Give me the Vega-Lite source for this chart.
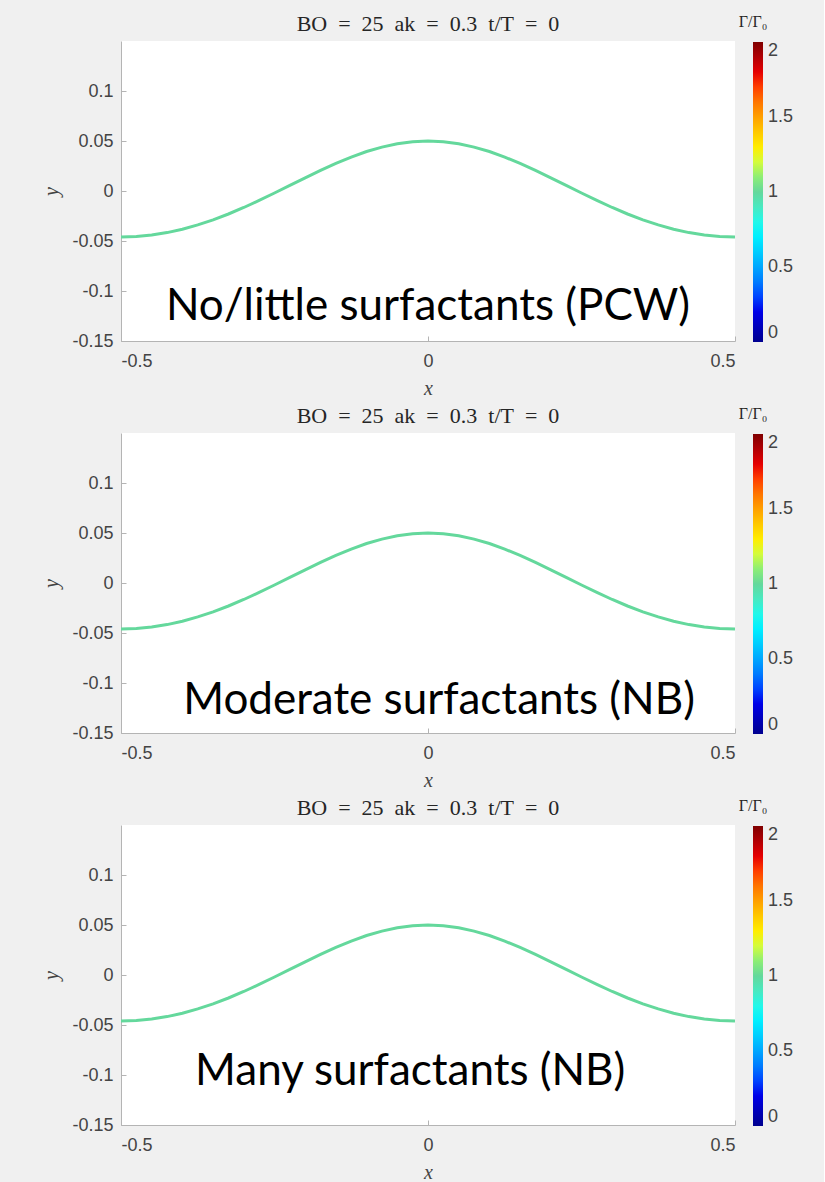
{
  "$schema": "https://vega.github.io/schema/vega-lite/v6.json",
  "background": "#f0f0f0",
  "padding": {"left": 41, "top": 13, "right": 30, "bottom": 3},
  "bounds": "flush",
  "spacing": 92,
  "datasets": {
    "surface": [
      {"x": -0.5, "y": -0.046, "gamma": 1},
      {"x": -0.475, "y": -0.0455, "gamma": 1},
      {"x": -0.45, "y": -0.044, "gamma": 1},
      {"x": -0.425, "y": -0.0416, "gamma": 1},
      {"x": -0.4, "y": -0.0382, "gamma": 1},
      {"x": -0.375, "y": -0.0339, "gamma": 1},
      {"x": -0.35, "y": -0.0288, "gamma": 1},
      {"x": -0.325, "y": -0.023, "gamma": 1},
      {"x": -0.3, "y": -0.0165, "gamma": 1},
      {"x": -0.275, "y": -0.0094, "gamma": 1},
      {"x": -0.25, "y": -0.002, "gamma": 1},
      {"x": -0.225, "y": 0.0056, "gamma": 1},
      {"x": -0.2, "y": 0.0132, "gamma": 1},
      {"x": -0.175, "y": 0.0206, "gamma": 1},
      {"x": -0.15, "y": 0.0276, "gamma": 1},
      {"x": -0.125, "y": 0.0339, "gamma": 1},
      {"x": -0.1, "y": 0.0395, "gamma": 1},
      {"x": -0.075, "y": 0.0439, "gamma": 1},
      {"x": -0.05, "y": 0.0473, "gamma": 1},
      {"x": -0.025, "y": 0.0493, "gamma": 1},
      {"x": 0, "y": 0.05, "gamma": 1},
      {"x": 0.025, "y": 0.0493, "gamma": 1},
      {"x": 0.05, "y": 0.0473, "gamma": 1},
      {"x": 0.075, "y": 0.0439, "gamma": 1},
      {"x": 0.1, "y": 0.0395, "gamma": 1},
      {"x": 0.125, "y": 0.0339, "gamma": 1},
      {"x": 0.15, "y": 0.0276, "gamma": 1},
      {"x": 0.175, "y": 0.0206, "gamma": 1},
      {"x": 0.2, "y": 0.0132, "gamma": 1},
      {"x": 0.225, "y": 0.0056, "gamma": 1},
      {"x": 0.25, "y": -0.002, "gamma": 1},
      {"x": 0.275, "y": -0.0094, "gamma": 1},
      {"x": 0.3, "y": -0.0165, "gamma": 1},
      {"x": 0.325, "y": -0.023, "gamma": 1},
      {"x": 0.35, "y": -0.0288, "gamma": 1},
      {"x": 0.375, "y": -0.0339, "gamma": 1},
      {"x": 0.4, "y": -0.0382, "gamma": 1},
      {"x": 0.425, "y": -0.0416, "gamma": 1},
      {"x": 0.45, "y": -0.044, "gamma": 1},
      {"x": 0.475, "y": -0.0455, "gamma": 1},
      {"x": 0.5, "y": -0.046, "gamma": 1}
    ],
    "notes": [
      {"panel": 1, "label": "No/little surfactants (PCW)", "x": 0, "y": -0.129},
      {"panel": 2, "label": "Moderate surfactants (NB)", "x": 0.018, "y": -0.131},
      {"panel": 3, "label": "Many surfactants (NB)", "x": -0.029, "y": -0.11}
    ]
  },
  "config": {
    "view": {"stroke": null, "fill": "white"},
    "axis": {
      "grid": false,
      "domainColor": "#b4b4b4",
      "tickColor": "#b4b4b4",
      "labelFont": "Liberation Sans",
      "labelFontSize": 18,
      "labelColor": "#444444",
      "titleFont": "Liberation Serif",
      "titleFontStyle": "italic",
      "titleFontWeight": "normal",
      "titleFontSize": 20,
      "titleColor": "#444444"
    },
    "title": {"font": "Liberation Serif", "fontSize": 22, "fontWeight": "normal", "color": "#262626", "offset": -22, "anchor": "middle", "frame": "group"}
  },
  "resolve": {"scale": {"color": "independent"}, "legend": {"color": "independent"}},
  "vconcat": [
    {
      "width": 614, "height": 300,
      "title": "BO\u2002=\u200225\u2002ak\u2002=\u20020.3\u2002t/T\u2002=\u20020",
      "layer": [
        {
          "data": {"name": "surface"},
          "mark": {"type": "line", "strokeWidth": 3, "clip": true},
          "encoding": {
            "x": {"field": "x", "type": "quantitative", "scale": {"domain": [-0.5, 0.5], "nice": false},
              "axis": {"title": "x", "values": [-0.5, 0, 0.5], "labelExpr": "datum.value + ''", "tickSize": -5, "labelPadding": 16, "titlePadding": 8}},
            "y": {"field": "y", "type": "quantitative", "scale": {"domain": [-0.15, 0.15], "nice": false, "zero": false},
              "axis": {"title": "y", "values": [-0.15, -0.1, -0.05, 0, 0.05, 0.1], "labelExpr": "datum.value + ''", "tickSize": -5, "labelPadding": 13, "titlePadding": 10}},
            "color": {"field": "gamma", "type": "quantitative",
              "scale": {"domain": [0, 0.25, 0.75, 1, 1.25, 1.75, 2], "range": ["#00008f", "#0000ff", "#00ffff", "#64d89c", "#ffff00", "#ff0000", "#800000"]},
              "legend": {"orient": "none", "legendX": 618, "legendY": -27, "direction": "vertical", "gradientLength": 300, "gradientThickness": 10, "gradientStrokeWidth": 0, "values": [0, 0.5, 1, 1.5, 2], "labelExpr": "datum.value + ''", "labelBaseline": "middle", "title": "\u0393/\u0393\u2080", "titleFont": "Liberation Serif", "titleFontSize": 16, "titleFontWeight": "normal", "titleColor": "#262626", "titleAnchor": "start", "titleAlign": "center", "titlePadding": 12, "labelFont": "Liberation Sans", "labelFontSize": 18, "labelColor": "#444444", "labelOffset": 5}}
          }
        },
        {
          "data": {"name": "notes"},
          "transform": [{"filter": "datum.panel == 1"}],
          "mark": {"type": "text", "font": "Lato", "fontSize": 44, "color": "#000000", "baseline": "alphabetic", "align": "center"},
          "encoding": {
            "x": {"field": "x", "type": "quantitative"},
            "y": {"field": "y", "type": "quantitative"},
            "text": {"field": "label"}
          }
        }
      ]
    },
    {
      "width": 614, "height": 300,
      "title": "BO\u2002=\u200225\u2002ak\u2002=\u20020.3\u2002t/T\u2002=\u20020",
      "layer": [
        {
          "data": {"name": "surface"},
          "mark": {"type": "line", "strokeWidth": 3, "clip": true},
          "encoding": {
            "x": {"field": "x", "type": "quantitative", "scale": {"domain": [-0.5, 0.5], "nice": false},
              "axis": {"title": "x", "values": [-0.5, 0, 0.5], "labelExpr": "datum.value + ''", "tickSize": -5, "labelPadding": 16, "titlePadding": 8}},
            "y": {"field": "y", "type": "quantitative", "scale": {"domain": [-0.15, 0.15], "nice": false, "zero": false},
              "axis": {"title": "y", "values": [-0.15, -0.1, -0.05, 0, 0.05, 0.1], "labelExpr": "datum.value + ''", "tickSize": -5, "labelPadding": 13, "titlePadding": 10}},
            "color": {"field": "gamma", "type": "quantitative",
              "scale": {"domain": [0, 0.25, 0.75, 1, 1.25, 1.75, 2], "range": ["#00008f", "#0000ff", "#00ffff", "#64d89c", "#ffff00", "#ff0000", "#800000"]},
              "legend": {"orient": "none", "legendX": 618, "legendY": -27, "direction": "vertical", "gradientLength": 300, "gradientThickness": 10, "gradientStrokeWidth": 0, "values": [0, 0.5, 1, 1.5, 2], "labelExpr": "datum.value + ''", "labelBaseline": "middle", "title": "\u0393/\u0393\u2080", "titleFont": "Liberation Serif", "titleFontSize": 16, "titleFontWeight": "normal", "titleColor": "#262626", "titleAnchor": "start", "titleAlign": "center", "titlePadding": 12, "labelFont": "Liberation Sans", "labelFontSize": 18, "labelColor": "#444444", "labelOffset": 5}}
          }
        },
        {
          "data": {"name": "notes"},
          "transform": [{"filter": "datum.panel == 2"}],
          "mark": {"type": "text", "font": "Lato", "fontSize": 44, "color": "#000000", "baseline": "alphabetic", "align": "center"},
          "encoding": {
            "x": {"field": "x", "type": "quantitative"},
            "y": {"field": "y", "type": "quantitative"},
            "text": {"field": "label"}
          }
        }
      ]
    },
    {
      "width": 614, "height": 300,
      "title": "BO\u2002=\u200225\u2002ak\u2002=\u20020.3\u2002t/T\u2002=\u20020",
      "layer": [
        {
          "data": {"name": "surface"},
          "mark": {"type": "line", "strokeWidth": 3, "clip": true},
          "encoding": {
            "x": {"field": "x", "type": "quantitative", "scale": {"domain": [-0.5, 0.5], "nice": false},
              "axis": {"title": "x", "values": [-0.5, 0, 0.5], "labelExpr": "datum.value + ''", "tickSize": -5, "labelPadding": 16, "titlePadding": 8}},
            "y": {"field": "y", "type": "quantitative", "scale": {"domain": [-0.15, 0.15], "nice": false, "zero": false},
              "axis": {"title": "y", "values": [-0.15, -0.1, -0.05, 0, 0.05, 0.1], "labelExpr": "datum.value + ''", "tickSize": -5, "labelPadding": 13, "titlePadding": 10}},
            "color": {"field": "gamma", "type": "quantitative",
              "scale": {"domain": [0, 0.25, 0.75, 1, 1.25, 1.75, 2], "range": ["#00008f", "#0000ff", "#00ffff", "#64d89c", "#ffff00", "#ff0000", "#800000"]},
              "legend": {"orient": "none", "legendX": 618, "legendY": -27, "direction": "vertical", "gradientLength": 300, "gradientThickness": 10, "gradientStrokeWidth": 0, "values": [0, 0.5, 1, 1.5, 2], "labelExpr": "datum.value + ''", "labelBaseline": "middle", "title": "\u0393/\u0393\u2080", "titleFont": "Liberation Serif", "titleFontSize": 16, "titleFontWeight": "normal", "titleColor": "#262626", "titleAnchor": "start", "titleAlign": "center", "titlePadding": 12, "labelFont": "Liberation Sans", "labelFontSize": 18, "labelColor": "#444444", "labelOffset": 5}}
          }
        },
        {
          "data": {"name": "notes"},
          "transform": [{"filter": "datum.panel == 3"}],
          "mark": {"type": "text", "font": "Lato", "fontSize": 44, "color": "#000000", "baseline": "alphabetic", "align": "center"},
          "encoding": {
            "x": {"field": "x", "type": "quantitative"},
            "y": {"field": "y", "type": "quantitative"},
            "text": {"field": "label"}
          }
        }
      ]
    }
  ]
}
